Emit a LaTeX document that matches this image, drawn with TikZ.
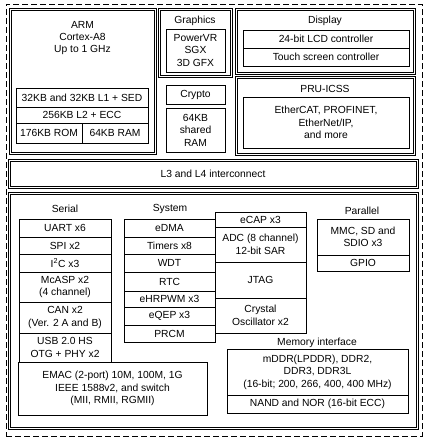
\documentclass[tikz,border=0pt]{standalone}
\usepackage{fontspec}
\setmainfont{Liberation Sans}
\begin{document}
\begin{tikzpicture}[x=1pt,y=-1pt,
  thinbox/.style={draw=black, line width=0.8pt, inner sep=0pt, align=center, font=\fontsize{10.3}{12.4}\selectfont},
  thickbox/.style={draw=black, line width=1.2pt, double=white, double distance=0.6pt, inner sep=0pt, align=center, font=\fontsize{10.3}{12.4}\selectfont},
  lbl/.style={inner sep=0pt, align=center, font=\fontsize{10.3}{12.4}\selectfont},
  outer/.style={draw=black, line width=1pt, dash pattern=on 6pt off 3pt}]
\newcommand\blk[7]{\node[#1, minimum width={#5pt-#3pt}, minimum height={#6pt-#4pt}] (#2) at ({(#3+#5)/2},{(#4+#6)/2}) {#7};}
\useasboundingbox (0,0) rectangle (428,440);
\blk{outer}{chip}{6}{4}{422}{436}{}
% ARM
\blk{thickbox}{arm}{10}{9}{155}{153}{}
\node[lbl] (armt) at (82.5,38) {ARM\\Cortex-A8\\Up to 1 GHz};
\blk{thinbox}{l1}{16}{88}{148}{107}{32KB and 32KB L1 + SED}
\blk{thinbox}{l2}{16}{107}{148}{123}{256KB L2 + ECC}
\blk{thinbox}{rom}{16}{123}{82}{143}{176KB ROM}
\blk{thinbox}{ram}{82}{123}{148}{143}{64KB RAM}
% Graphics
\blk{thickbox}{gfx}{159}{9}{231}{76}{}
\node[lbl] (gfxt) at (195,21) {Graphics};
\blk{thinbox}{sgx}{166}{29}{225}{72}{PowerVR\\SGX\\3D GFX}
\blk{thinbox}{crypto}{166}{85}{225}{104}{Crypto}
\blk{thinbox}{shram}{166}{108}{225}{152}{64KB\\shared\\RAM}
% Display
\blk{thickbox}{disp}{236}{9}{414}{73}{}
\node[lbl] (dispt) at (325,21) {Display};
\blk{thinbox}{lcd}{243}{30}{409}{48}{24-bit LCD controller}
\blk{thinbox}{touch}{243}{48}{409}{66}{Touch screen controller}
% PRU
\blk{thickbox}{pru}{236}{77}{414}{154}{}
\node[lbl] (prut) at (325,89) {PRU-ICSS};
\blk{thinbox}{ether}{243}{97}{409}{148}{EtherCAT, PROFINET,\\EtherNet/IP,\\and more}
% Interconnect
\blk{thickbox}{ic}{9}{160}{417}{187}{L3 and L4 interconnect}
% Peripherals
\blk{thickbox}{periph}{9}{193}{417}{428}{}
\node[lbl] (serialt) at (65,209) {Serial};
\blk{thinbox}{uart}{19}{219}{111}{237}{UART x6}
\blk{thinbox}{spi}{19}{237}{111}{254}{SPI x2}
\blk{thinbox}{i2c}{19}{254}{111}{272}{I\textsuperscript{2}C x3}
\blk{thinbox}{mcasp}{19}{272}{111}{302}{McASP x2\\(4 channel)}
\blk{thinbox}{can}{19}{302}{111}{333}{CAN x2\\(Ver. 2 A and B)}
\blk{thinbox}{usb}{19}{333}{111}{362}{USB 2.0 HS\\OTG + PHY x2}
\blk{thinbox}{emac}{18}{362}{207}{415}{EMAC (2-port) 10M, 100M, 1G\\IEEE 1588v2, and switch\\(MII, RMII, RGMII)}
\node[lbl] (syst) at (170,209) {System};
\blk{thinbox}{edma}{124}{219}{215}{237}{eDMA}
\blk{thinbox}{timers}{124}{237}{215}{254}{Timers x8}
\blk{thinbox}{wdt}{124}{254}{215}{272}{WDT}
\blk{thinbox}{rtc}{124}{272}{215}{291}{RTC}
\blk{thinbox}{ehrpwm}{124}{291}{215}{307}{eHRPWM x3}
\blk{thinbox}{eqep}{124}{307}{215}{325}{eQEP x3}
\blk{thinbox}{prcm}{124}{325}{215}{342}{PRCM}
\blk{thinbox}{ecap}{215}{212}{306}{227}{eCAP x3}
\blk{thinbox}{adc}{215}{227}{306}{262}{ADC (8 channel)\\12-bit SAR}
\blk{thinbox}{jtag}{215}{262}{306}{298}{JTAG}
\blk{thinbox}{xtal}{215}{298}{306}{333}{Crystal\\Oscillator x2}
\node[lbl] (part) at (362,211) {Parallel};
\blk{thinbox}{mmc}{317}{219}{409}{255}{MMC, SD and\\SDIO x3}
\blk{thinbox}{gpio}{317}{255}{409}{271}{GPIO}
\node[lbl] (memt) at (317,343) {Memory interface};
\blk{thinbox}{ddr}{227}{349}{408}{395}{mDDR(LPDDR), DDR2,\\DDR3, DDR3L\\(16-bit; 200, 266, 400, 400 MHz)}
\blk{thinbox}{nand}{227}{395}{408}{413}{NAND and NOR (16-bit ECC)}
\end{tikzpicture}
\end{document}
